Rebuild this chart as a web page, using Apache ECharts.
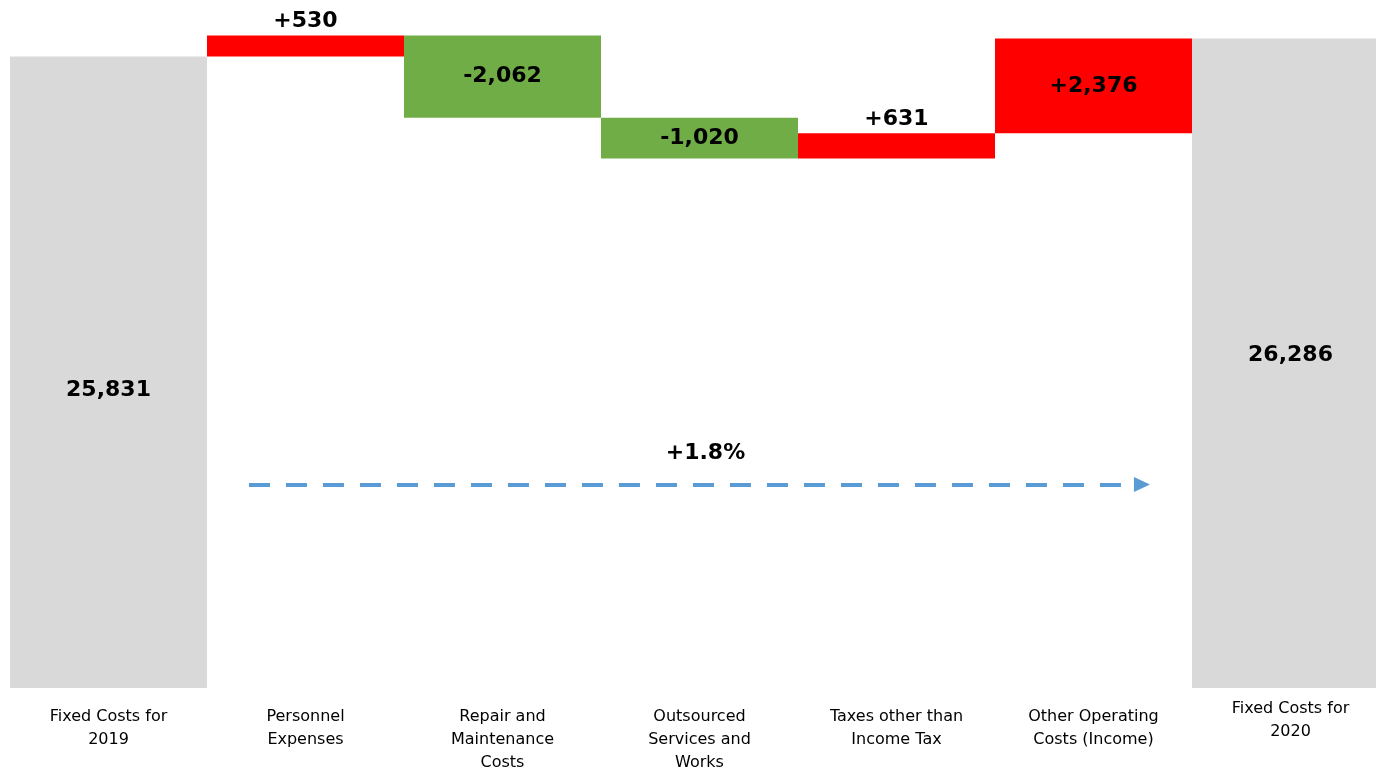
<!DOCTYPE html>
<html>
<head>
<meta charset="utf-8">
<title>Fixed Costs Bridge 2019 to 2020</title>
<script src="https://cdn.jsdelivr.net/npm/echarts@6/dist/echarts.min.js"></script>
<style>
  html, body { margin: 0; padding: 0; background: #ffffff; }
  #chart { width: 1376px; height: 774px; }
</style>
</head>
<body>
<div id="chart"></div>
<script>
// Bridge categories (first and last are totals)
const categories = [
  'Fixed Costs for\n2019',
  'Personnel\nExpenses',
  'Repair and\nMaintenance\nCosts',
  'Outsourced\nServices and\nWorks',
  'Taxes other than\nIncome Tax',
  'Other Operating\nCosts (Income)',
  'Fixed Costs for\n2020'
];
const startTotal = 25831;
const changes = [530, -2062, -1020, 631, 2376];
const endTotal = 26286;

// Growth arrow annotation, in category units along the axis and value on the y scale
const arrowFrom = 1.213;
const arrowTo = 5.746;
const arrowLevel = 15100;

const GREY = '#D9D9D9';
const RED = '#FF0000';
const GREEN = '#70AD47';
const fmt = v => Math.abs(v).toLocaleString('en-US');

// Build floating bases and visible bar heights from the running total
const baseData = [0];
const barData = [{
  value: startTotal,
  itemStyle: { color: GREY },
  label: { position: 'inside', offset: [0, 18], formatter: fmt(startTotal) }
}];
let running = startTotal;
changes.forEach(c => {
  const next = running + c;
  baseData.push(Math.min(running, next));
  const inside = Math.abs(c) >= 1000;
  barData.push({
    value: Math.abs(c),
    itemStyle: { color: c >= 0 ? RED : GREEN },
    label: {
      position: inside ? 'inside' : 'top',
      distance: 3,
      formatter: (c >= 0 ? '+' : '-') + fmt(c)
    }
  });
  running = next;
});
baseData.push(0);
barData.push({
  value: endTotal,
  itemStyle: { color: GREY },
  label: { position: 'inside', offset: [0, -8], formatter: fmt(endTotal) }
});

// The closing total's caption sits slightly higher than the others
const axisData = categories.map((name, i) =>
  i === categories.length - 1 ? { value: name, textStyle: { padding: [-8, 0, 0, 0] } } : name
);

const growth = (endTotal - startTotal) / startTotal * 100;
const growthText = (growth >= 0 ? '+' : '') + growth.toFixed(1) + '%';

const chart = echarts.init(document.getElementById('chart'), null, { renderer: 'canvas' });
chart.setOption({
  animation: false,
  backgroundColor: '#ffffff',
  textStyle: { fontFamily: 'DejaVu Sans' },
  grid: {
    left: 10, width: 1379, top: 10, bottom: 86,
    containLabel: false, outerBoundsMode: 'none'
  },
  xAxis: [{
    type: 'category',
    data: axisData,
    axisLine: { show: false },
    axisTick: { show: false },
    axisLabel: {
      interval: 0,
      margin: 17,
      verticalAlign: 'top',
      lineHeight: 23,
      fontSize: 16,
      color: '#000000',
      fontFamily: 'DejaVu Sans'
    }
  }, {
    type: 'value',
    min: 0, max: 7,
    show: false
  }],
  yAxis: {
    type: 'value',
    min: 10000,
    max: 27000,
    show: false,
    splitLine: { show: false }
  },
  series: [{
    name: 'base',
    type: 'bar',
    stack: 'bridge',
    barCategoryGap: 0,
    itemStyle: { color: 'transparent' },
    emphasis: { disabled: true },
    data: baseData
  }, {
    name: 'amount',
    type: 'bar',
    stack: 'bridge',
    barCategoryGap: 0,
    label: {
      show: true,
      fontSize: 22,
      fontWeight: 'bold',
      color: '#000000',
      fontFamily: 'DejaVu Sans'
    },
    data: barData
  }, {
    name: 'growth',
    type: 'line',
    xAxisIndex: 1,
    data: [],
    markLine: {
      silent: true,
      symbol: ['none', 'triangle'],
      symbolSize: [15, 16],
      lineStyle: { color: '#5B9BD5', width: 4, type: [21, 16] },
      label: {
        show: true,
        position: 'middle',
        distance: 20,
        offset: [10, 0],
        formatter: growthText,
        fontSize: 22,
        fontWeight: 'bold',
        color: '#000000',
        fontFamily: 'DejaVu Sans'
      },
      data: [[
        { coord: [arrowFrom, arrowLevel] },
        { coord: [arrowTo, arrowLevel] }
      ]]
    }
  }]
});
</script>
</body>
</html>
